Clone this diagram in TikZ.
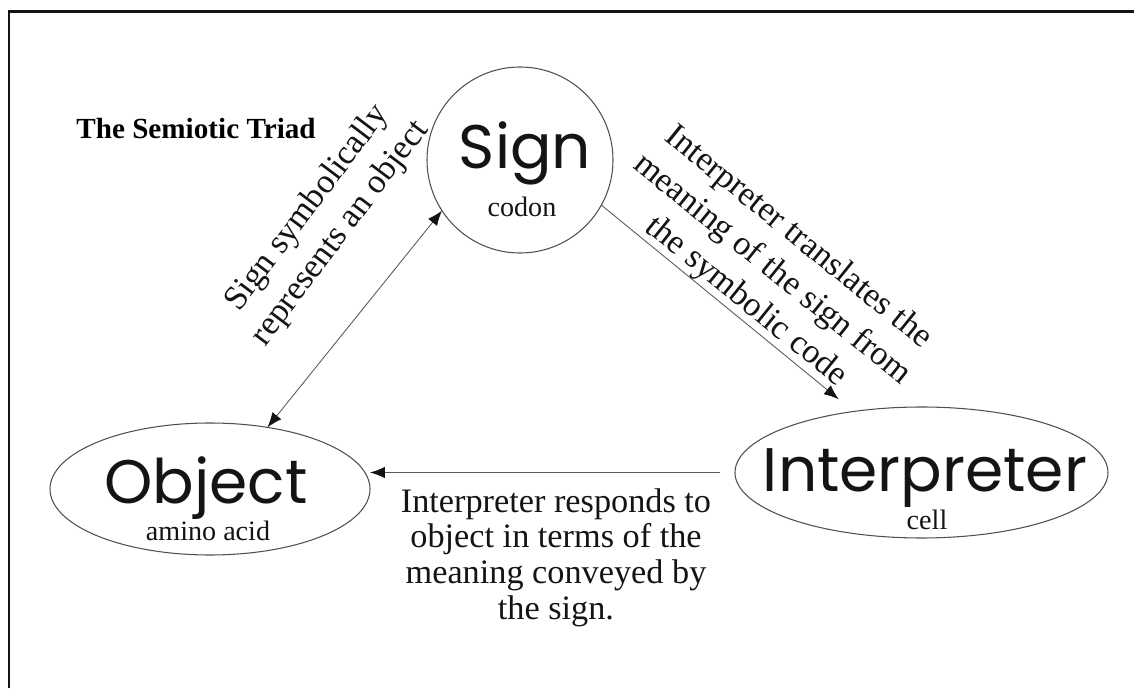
\documentclass[tikz,border=0pt]{standalone}
\usepackage{fontspec}
\setmainfont{Liberation Serif}
\newfontfamily\gothic{Poppins}
\usetikzlibrary{arrows.meta,shapes.geometric}
\definecolor{ink}{RGB}{20,20,20}
\tikzset{
  >={Latex[length=8.5pt,width=6.5pt,color=ink]},
  frame/.style={draw=ink,line width=1.7pt},
  bubble/.style={draw=ink!75,line width=0.6pt,inner sep=0pt,outer sep=0pt},
  word/.style={font=\gothic\fontsize{35}{35}\selectfont,inner sep=0pt,anchor=base,text=ink},
  gloss/.style={font=\fontsize{16}{18}\selectfont,inner sep=0pt,anchor=base,text=ink},
  note/.style={font=\fontsize{19.5}{20.4}\selectfont,align=center,inner sep=0pt,text=ink},
  slant note/.style={note,font=\fontsize{19.5}{23.5}\selectfont},
  link/.style={draw=ink!70,line width=0.5pt},
}
\begin{document}
\begin{tikzpicture}
  \useasboundingbox (0,0) rectangle (22.68,13.76);
  \draw[frame] (0.18,0) -- (0.18,13.53) -- (22.68,13.53);
  \node[font=\bfseries\fontsize{16.6}{18}\selectfont,anchor=base west,inner sep=0pt] (title) at (1.52,10.98) {The Semiotic Triad};
  % the three corners
  \node[bubble,circle,minimum size=3.72cm] (sign) at (10.40,10.56) {};
  \node[bubble,ellipse,minimum width=6.4cm,minimum height=2.64cm] (object) at (4.20,3.98) {};
  \node[bubble,ellipse,minimum width=7.46cm,minimum height=2.62cm] (interp) at (18.43,4.31) {};
  \node[word] (sign-w) at (10.50,10.38) {Sign};
  \node[gloss] (sign-g) at (10.44,9.42) {codon};
  \node[word] (object-w) at (4.12,3.69) {Object};
  \node[gloss] (object-g) at (4.16,2.95) {amino acid};
  \node[word] (interp-w) at (18.50,3.94) {Interpreter};
  \node[gloss] (interp-g) at (18.54,3.18) {cell};
  % connectors
  \draw[link,<->] (sign.213.7) -- (object.47.3);
  \draw[link,->,shorten >=11pt] (sign.331.7) -- (interp.138.6);
  \draw[link,->,shorten <=8.5pt] (interp.west) -- (interp.west -| object.east);
  % labels
  \node[slant note,rotate=53] (rep) at (6.48,9.34) {Sign symbolically\\represents an object};
  \node[slant note,rotate=-39] (trans) at (15.44,8.36) {Interpreter translates the\\meaning of the sign from\\the symbolic code};
  \node[note,anchor=north] (resp) at (11.12,4.00) {Interpreter responds to\\object in terms of the\\meaning conveyed by\\the sign.};
\end{tikzpicture}
\end{document}
